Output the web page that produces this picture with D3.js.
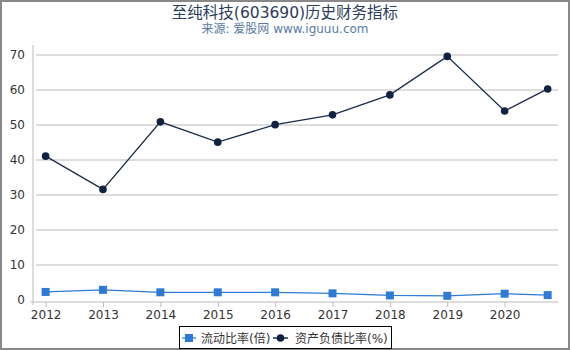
<!DOCTYPE html>
<html><head><meta charset="utf-8">
<script src="https://cdn.jsdelivr.net/npm/d3@7"></script>
<style>body{margin:0;background:#fff}svg{display:block;font-family:"DejaVu Sans","Noto Sans CJK SC",sans-serif}</style>
</head><body>
<script>
const years = [2012, 2013, 2014, 2015, 2016, 2017, 2018, 2019, 2020, 2020.75];
const tickYears = [2012, 2013, 2014, 2015, 2016, 2017, 2018, 2019, 2020];
const currentRatio = [2.3, 2.9, 2.2, 2.2, 2.2, 1.9, 1.3, 1.2, 1.8, 1.4];
const debtRatio = [41.1, 31.6, 50.9, 45.1, 50.1, 52.9, 58.6, 69.6, 54.0, 60.3];
const yTicks = [0, 10, 20, 30, 40, 50, 60, 70];
const seriesNames = ["流动比率(倍)", "资产负债比率(%)"];

const W = 570, H = 350;
const svg = d3.select("body").append("svg").attr("width", W).attr("height", H);
svg.append("rect").attr("x", 1).attr("y", 1).attr("width", W - 2).attr("height", H - 2)
  .attr("fill", "#fff").attr("stroke", "#888").attr("stroke-width", 2);

svg.append("text").attr("x", 285).attr("y", 18).attr("text-anchor", "middle")
  .attr("font-size", 15.5).attr("fill", "#2b3d5b").text("至纯科技(603690)历史财务指标");
svg.append("text").attr("x", 285).attr("y", 32.5).attr("text-anchor", "middle")
  .attr("font-size", 12).attr("fill", "#5a7aa3").text("来源: 爱股网 www.iguuu.com");

const x = d3.scaleLinear().domain([2011.78, 2020.93]).range([33, 558]);
const y = d3.scaleLinear().domain([0, 70]).range([300, 55]);

// grid
svg.append("g").selectAll("line").data(yTicks.filter(d => d > 0)).join("line")
  .attr("x1", 36).attr("x2", 558).attr("y1", d => y(d)).attr("y2", d => y(d))
  .attr("stroke", "#bbb").attr("stroke-width", 1);

// y axis
const ya = svg.append("g").attr("transform", "translate(33,0)")
  .call(d3.axisLeft(y).tickValues(yTicks).tickSize(0).tickPadding(8));
ya.select(".domain").attr("stroke", "#bbb").attr("d", `M0,${y(0)+5}V45`);
ya.selectAll("text").attr("font-size", 12).attr("fill", "#333").attr("font-family", "DejaVu Sans");

// x axis
const xa = svg.append("g").attr("transform", "translate(0,302)")
  .call(d3.axisBottom(x).tickValues(tickYears).tickFormat(d3.format("d")).tickSize(5).tickPadding(3));
xa.select(".domain").attr("stroke", "#bbb").attr("d", "M30,0H558");
xa.selectAll(".tick line").attr("stroke", "#bbb");
xa.selectAll("text").attr("font-size", 12).attr("fill", "#333").attr("font-family", "DejaVu Sans");

const line = d3.line().x((d, i) => x(years[i])).y(d => y(d));

svg.append("path").datum(currentRatio).attr("d", line).attr("fill", "none")
  .attr("stroke", "#2e7bd6").attr("stroke-width", 1.3);
svg.append("g").selectAll("rect").data(currentRatio).join("rect")
  .attr("x", (d, i) => x(years[i]) - 4).attr("y", d => y(d) - 4)
  .attr("width", 8).attr("height", 8).attr("fill", "#2e7bd6");

svg.append("path").datum(debtRatio).attr("d", line).attr("fill", "none")
  .attr("stroke", "#1c2c48").attr("stroke-width", 1.3);
svg.append("g").selectAll("circle").data(debtRatio).join("circle")
  .attr("cx", (d, i) => x(years[i])).attr("cy", d => y(d)).attr("r", 3.8).attr("fill", "#0f223f");

// legend
const lg = svg.append("g");
lg.append("rect").attr("x", 179.5).attr("y", 326.5).attr("width", 212).attr("height", 22)
  .attr("fill", "#fff").attr("stroke", "#000").attr("stroke-width", 1);
lg.append("line").attr("x1", 182).attr("x2", 196).attr("y1", 338).attr("y2", 338).attr("stroke", "#7aaee8").attr("stroke-width", 2);
lg.append("rect").attr("x", 185).attr("y", 334).attr("width", 8).attr("height", 8).attr("fill", "#2e7bd6");
lg.append("text").attr("x", 201).attr("y", 342.5).attr("font-size", 12).attr("fill", "#333").text(seriesNames[0]);
lg.append("line").attr("x1", 273).attr("x2", 288).attr("y1", 338).attr("y2", 338).attr("stroke", "#556479").attr("stroke-width", 2);
lg.append("circle").attr("cx", 280.5).attr("cy", 338).attr("r", 3.8).attr("fill", "#0f223f");
lg.append("text").attr("x", 295).attr("y", 342.5).attr("font-size", 12).attr("fill", "#333").text(seriesNames[1]);
</script>
</body></html>
